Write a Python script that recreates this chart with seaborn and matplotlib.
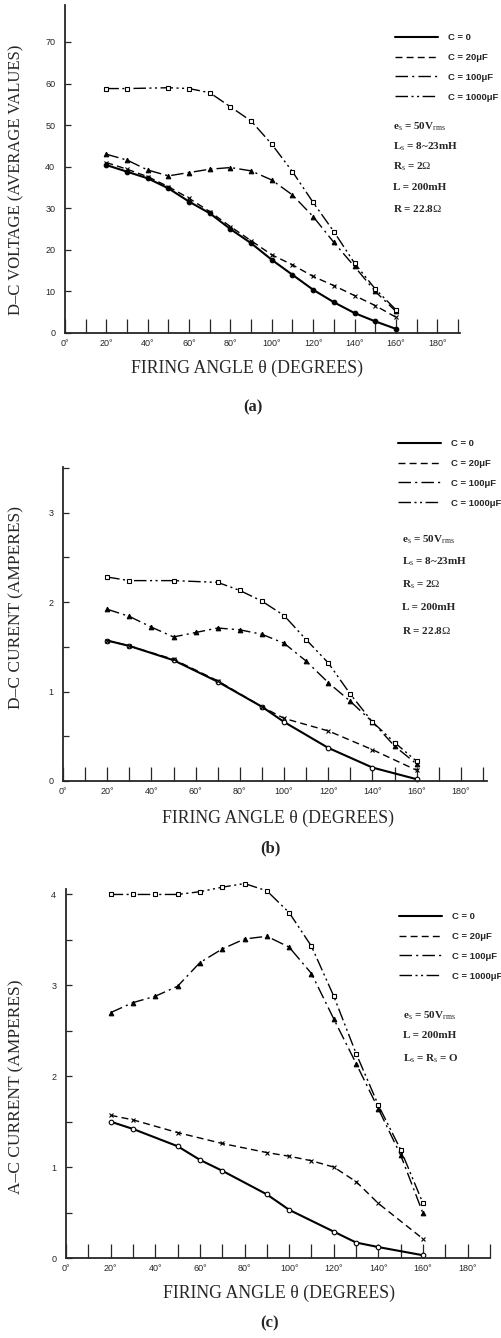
import seaborn as sns
from matplotlib import pyplot as plt
from matplotlib.lines import Line2D
from matplotlib.ticker import MultipleLocator, FuncFormatter

# (a) D-C voltage, volts
ang_a = [20, 30, 40, 50, 60, 70, 80, 90, 100, 110, 120, 130, 140, 150, 160]
va_c0 = [40.4, 38.8, 37.2, 34.8, 31.6, 28.8, 25.0, 21.6, 17.6, 14.0, 10.4, 7.4, 4.8, 2.8, 1.0]
va_c20 = [41.0, 39.4, 37.6, 35.2, 32.4, 29.2, 25.6, 22.2, 18.8, 16.4, 13.6, 11.4, 9.0, 6.6, 3.8]
va_c100 = [43.0, 41.6, 39.2, 37.8, 38.6, 39.4, 39.8, 39.0, 36.8, 33.2, 28.0, 21.8, 16.0, 10.0, 5.2]
ang_a1000 = [20, 30, 50, 60, 70, 80, 90, 100, 110, 120, 130, 140, 150, 160]
va_c1000 = [58.8, 58.8, 59.0, 58.8, 57.8, 54.4, 51.0, 45.4, 38.8, 31.4, 24.4, 16.8, 10.6, 5.6]

# (b) D-C current, amperes
ang_b0 = [20, 30, 50, 70, 90, 100, 120, 140, 160]
ib_c0 = [1.57, 1.51, 1.35, 1.11, 0.83, 0.66, 0.37, 0.15, 0.02]
ib_c20 = [1.57, 1.51, 1.36, 1.12, 0.83, 0.70, 0.56, 0.35, 0.12]
ang_b100 = [20, 30, 40, 50, 60, 70, 80, 90, 100, 110, 120, 130, 140, 150, 160]
ib_c100 = [1.92, 1.84, 1.72, 1.61, 1.66, 1.71, 1.69, 1.64, 1.54, 1.34, 1.10, 0.89, 0.66, 0.39, 0.19]
ang_b1000 = [20, 30, 50, 70, 80, 90, 100, 110, 120, 130, 140, 150, 160]
ib_c1000 = [2.28, 2.24, 2.24, 2.22, 2.13, 2.01, 1.85, 1.58, 1.32, 0.97, 0.66, 0.43, 0.22]

# (c) A-C current, amperes
ang_c0 = [20, 30, 50, 60, 70, 90, 100, 120, 130, 140, 160]
ic_c0 = [1.50, 1.42, 1.23, 1.08, 0.96, 0.70, 0.53, 0.29, 0.17, 0.12, 0.03]
ang_c20 = [20, 30, 50, 70, 90, 100, 110, 120, 130, 140, 160]
ic_c20 = [1.57, 1.52, 1.38, 1.26, 1.16, 1.12, 1.07, 1.00, 0.84, 0.60, 0.21]
ang_c = [20, 30, 40, 50, 60, 70, 80, 90, 100, 110, 120, 130, 140, 150, 160]
ic_c100 = [2.70, 2.81, 2.88, 2.99, 3.25, 3.40, 3.51, 3.54, 3.42, 3.13, 2.63, 2.14, 1.64, 1.13, 0.49]
ic_c1000 = [4.00, 4.00, 4.00, 4.00, 4.03, 4.08, 4.12, 4.04, 3.80, 3.43, 2.88, 2.25, 1.68, 1.19, 0.60]

labels = ["C = 0", "C = 20μF", "C = 100μF", "C = 1000μF"]
params_ab = [r"e$_s$ = 50V$_{rms}$", "L$_s$ = 8~23mH", r"R$_s$ = 2$\Omega$", "L = 200mH", r"R = 22.8$\Omega$"]
params_c = [r"e$_s$ = 50V$_{rms}$", "L = 200mH", "L$_s$ = R$_s$ = O"]

sns.set_style("ticks")
plt.rcParams['font.family'] = ['Liberation Serif', 'DejaVu Serif']
plt.rcParams['mathtext.fontset'] = 'custom'
plt.rcParams['mathtext.rm'] = 'Liberation Serif'
plt.rcParams['mathtext.it'] = 'Liberation Serif'

W, H = 501, 1338
fig = plt.figure(figsize=(W / 100, H / 100), dpi=100)

styles = [
    dict(ls='-', lw=1.5, marker='o', ms=3.3),
    dict(ls=(0, (5, 3)), lw=1.0, marker='x', ms=3.3),
    dict(ls=(0, (9, 3, 1.5, 3)), lw=1.0, marker='^', ms=3.3),
    dict(ls=(0, (9, 2.5, 1.5, 2.5, 1.5, 2.5)), lw=1.0, marker='s', ms=3.0),
]


def make_axes(l, t, r, b):
    return fig.add_axes([l / W, 1 - b / H, (r - l) / W, (b - t) / H])


def draw(ax, series, fills):
    for (x, y), st, fill in zip(series, styles, fills):
        sns.lineplot(x=x, y=y, ax=ax, color='black', errorbar=None, clip_on=False,
                     linestyle=st['ls'], linewidth=st['lw'], marker=st['marker'],
                     markersize=st['ms'], markeredgecolor='black',
                     markerfacecolor='black' if fill else 'white', markeredgewidth=0.8)


def style_axes(ax, xmax, ymax, ymajor, yminor, ylabel, ylab_xy, xlab_xy, ysize=12.5):
    ax.set_xlim(0, xmax)
    ax.set_ylim(0, ymax)
    sns.despine(ax=ax)
    for s in ['left', 'bottom']:
        ax.spines[s].set_linewidth(1.3)
    ax.xaxis.set_major_locator(MultipleLocator(20))
    ax.xaxis.set_minor_locator(MultipleLocator(10))
    ax.xaxis.set_major_formatter(FuncFormatter(lambda v, p: f"{int(v)}°" if v <= 180 else ""))
    ax.yaxis.set_major_locator(MultipleLocator(ymajor))
    ax.yaxis.set_minor_locator(MultipleLocator(yminor))
    ax.tick_params(axis='x', which='both', direction='in', length=10, width=0.9,
                   labelsize=6.5, pad=4, labelfontfamily='Liberation Sans')
    ax.tick_params(axis='y', which='both', direction='in', length=4, width=0.9,
                   labelsize=6.5, pad=7, labelfontfamily='Liberation Sans')
    ax.set_xlabel("FIRING ANGLE θ (DEGREES)", fontsize=12.8)
    ax.set_ylabel(ylabel, fontsize=ysize)
    ax.xaxis.set_label_coords(*xlab_xy)
    ax.xaxis.label.set_va('center')
    ax.yaxis.set_label_coords(*ylab_xy)
    ax.yaxis.label.set_va('center')


def legend(ax, x, y, params, px, py):
    handles = [Line2D([], [], color='black', linestyle=st['ls'], linewidth=st['lw']) for st in styles]
    ax.legend(handles, labels, loc='upper left', bbox_to_anchor=(x / W, 1 - y / H),
              bbox_transform=fig.transFigure, frameon=False, borderpad=0, borderaxespad=0,
              handlelength=4.6, handletextpad=1.0, labelspacing=1.15,
              prop=dict(family='Liberation Sans', weight='bold', size=6.8))
    for txt, yy in zip(params, py):
        fig.text(px / W, 1 - yy / H, txt, ha='left', va='center', fontsize=8, weight='bold')


# panel (a)
ax = make_axes(65, 5, 460, 333)
draw(ax, [(ang_a, va_c0), (ang_a, va_c20), (ang_a, va_c100), (ang_a1000, va_c1000)],
     [True, True, True, False])
style_axes(ax, 191, 78.9, 10, 10, "D–C VOLTAGE (AVERAGE VALUES)", (-0.124, 0.466), (0.461, -0.107),
           ysize=12.0)
legend(ax, 395, 33, params_ab, 393, [127, 147, 167, 188, 208])
fig.text(253 / W, 1 - 407 / H, "(a)", ha='center', va='center', fontsize=12, weight='bold')

# panel (b)
ax = make_axes(63, 467, 487, 781)
draw(ax, [(ang_b0, ib_c0), (ang_b0, ib_c20), (ang_b100, ib_c100), (ang_b1000, ib_c1000)],
     [False, True, True, False])
style_axes(ax, 191.8, 3.51, 1, 0.5, "D–C CURENT (AMPERES)", (-0.111, 0.554), (0.507, -0.119))
legend(ax, 398, 439, params_ab, 402, [540, 562, 585, 607, 630])
fig.text(270 / W, 1 - 848 / H, "(b)", ha='center', va='center', fontsize=12, weight='bold')

# panel (c)
ax = make_axes(66, 889, 490, 1258)
draw(ax, [(ang_c0, ic_c0), (ang_c20, ic_c20), (ang_c, ic_c100), (ang_c, ic_c1000)],
     [False, True, True, False])
style_axes(ax, 190, 4.06, 1, 0.5, "A–C CURRENT (AMPERES)", (-0.117, 0.464), (0.503, -0.096))
legend(ax, 399, 912, params_c, 403, [1016, 1036, 1059])
fig.text(270 / W, 1 - 1323 / H, "(c)", ha='center', va='center', fontsize=12, weight='bold')

fig.savefig("out.png", dpi=100)
